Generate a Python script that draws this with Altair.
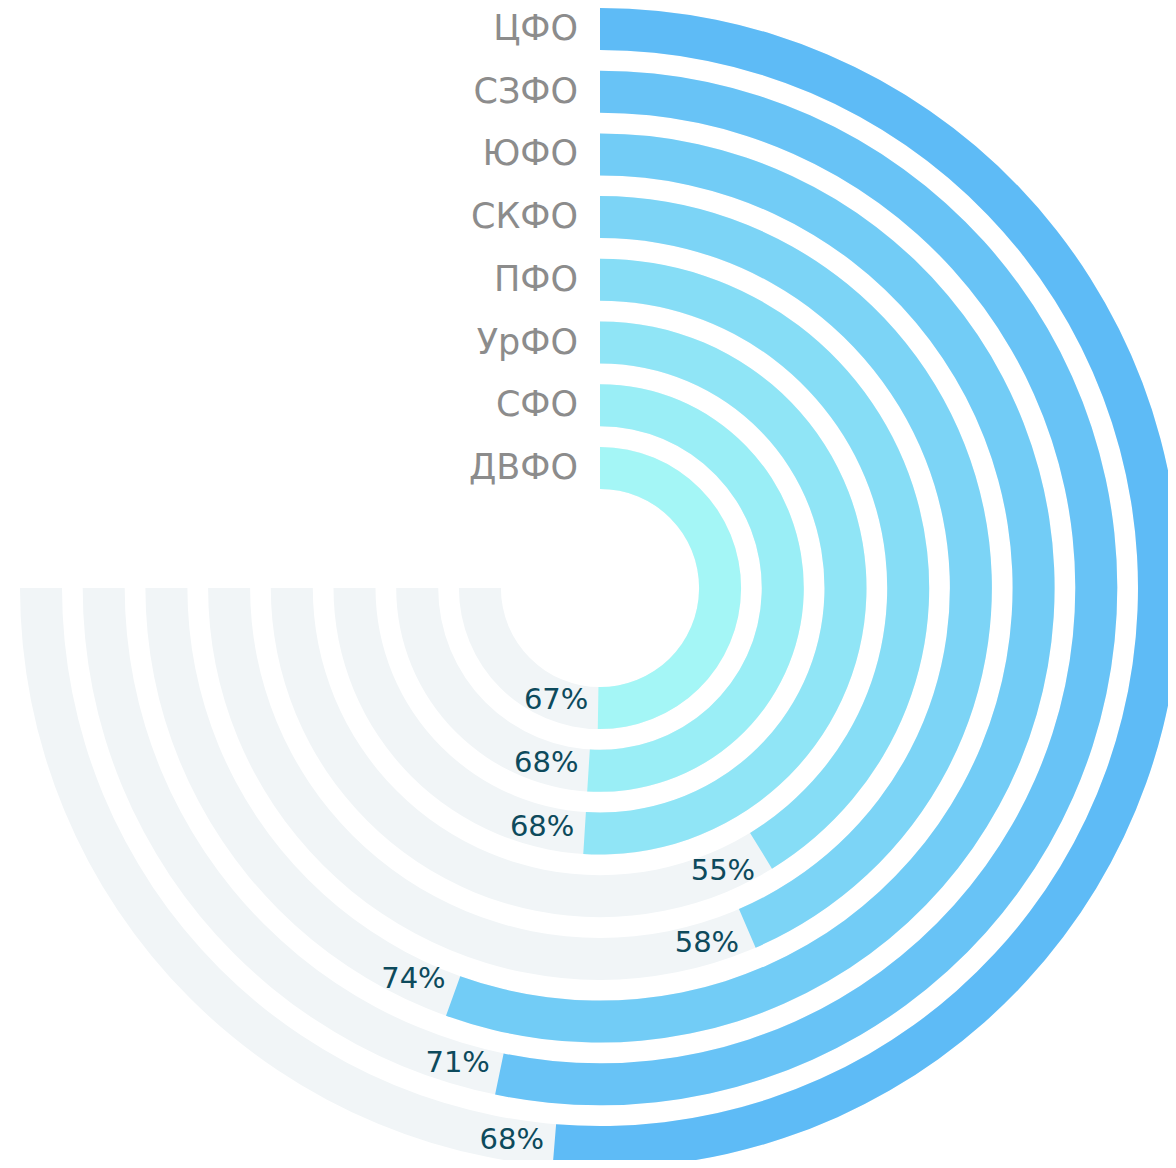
import math
import altair as alt
import pandas as pd

regions = ["ЦФО", "СЗФО", "ЮФО", "СКФО", "ПФО", "УрФО", "СФО", "ДВФО"]
values = [68.4, 71, 74, 58, 55, 68, 68, 67]
colors = ["#5EBBF6", "#68C3F6", "#72CCF6", "#7CD4F6", "#86DDF6", "#90E5F6", "#9AEEF6", "#A4F6F6"]

df = pd.DataFrame({"region": regions, "value": values, "idx": list(range(len(regions)))})

CX, CY = 592, 580
R0, PITCH, THICK = 580, 62.7, 42
SPAN = 1.5 * math.pi

theta_scale = alt.Scale(domain=[0, 100], range=[0, SPAN])

base = alt.Chart(df).transform_calculate(
    ro=f"{R0} - {PITCH} * datum.idx",
    ri=f"{R0} - {PITCH} * datum.idx - {THICK}",
    rc=f"{R0} - {PITCH} * datum.idx - {THICK / 2}",
    start="0",
    full="100",
    txt="round(datum.value) + '%'",
).transform_calculate(
    lab=f"datum.value + 43 / datum.rc / {SPAN} * 100"
)

bg = base.mark_arc(color="#F1F5F7").encode(
    theta=alt.Theta("start:Q", scale=theta_scale, stack=None),
    theta2="full:Q",
    radius=alt.Radius("ro:Q", scale=None),
    radius2="ri:Q",
    x=alt.value(CX),
    y=alt.value(CY),
)

fg = base.mark_arc().encode(
    theta=alt.Theta("start:Q", scale=theta_scale, stack=None),
    theta2="value:Q",
    radius=alt.Radius("ro:Q", scale=None),
    radius2="ri:Q",
    color=alt.Color("region:N", scale=alt.Scale(domain=regions, range=colors), legend=None),
    x=alt.value(CX),
    y=alt.value(CY),
)

vals = base.mark_text(font="DejaVu Sans", fontSize=29, color="#0D4A5C",
                      align="center", baseline="middle").encode(
    theta=alt.Theta("lab:Q", scale=theta_scale, stack=None),
    radius=alt.Radius("rc:Q", scale=None),
    text="txt:N",
    x=alt.value(CX),
    y=alt.value(CY),
)

cats = base.mark_text(font="DejaVu Sans", fontSize=35, color="#8C8C8C",
                      align="right", baseline="middle", dx=-22).encode(
    theta=alt.Theta("start:Q", scale=theta_scale, stack=None),
    radius=alt.Radius("rc:Q", scale=None),
    text="region:N",
    x=alt.value(CX),
    y=alt.value(CY),
)

chart = alt.layer(bg, fg, vals, cats).properties(
    width=1160, height=1152, autosize="none", padding=0
).configure_view(stroke=None)

chart.save("out.html", embed_options={"renderer": "svg", "actions": False})
